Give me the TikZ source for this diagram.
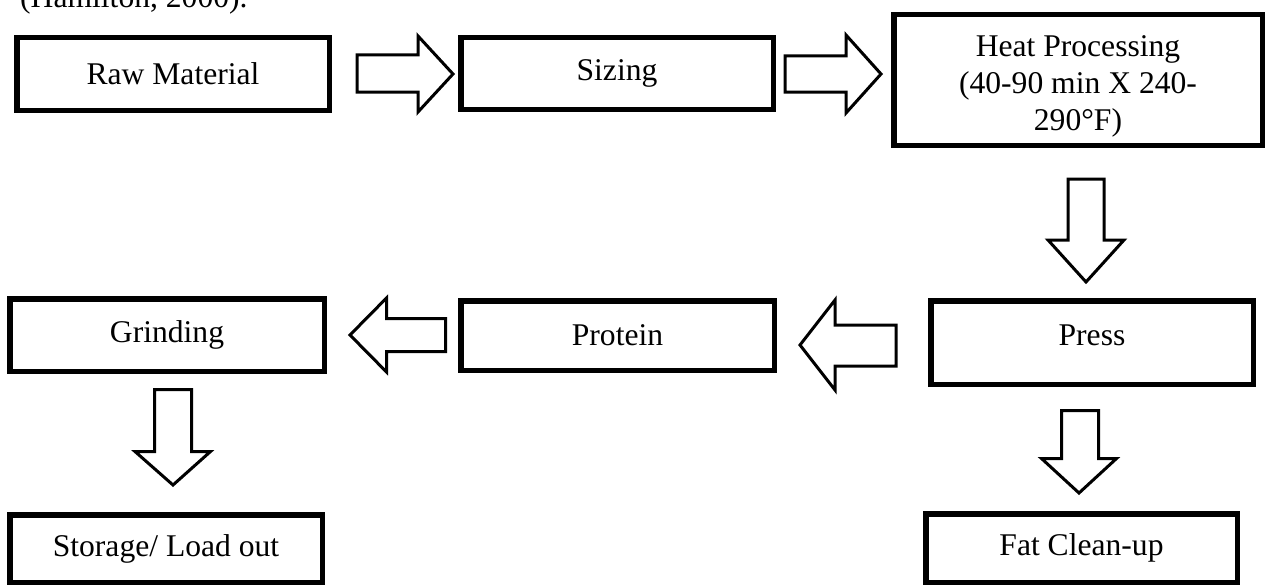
\documentclass[tikz,border=0pt]{standalone}
\usepackage{fontspec}
\setmainfont{Liberation Serif}
\begin{document}
\begin{tikzpicture}[x=1pt,y=-1pt,
  box/.style={draw=black,line width=5.5pt,fill=white,inner sep=0pt,align=center,
    font=\fontsize{31.6}{37}\selectfont},
  txt/.style={inner sep=0pt,align=center,font=\fontsize{31.6}{37}\selectfont},
  barrow/.style={draw=black,line width=3pt,fill=white,line join=miter}]
\useasboundingbox (0,0) rectangle (1266,586);
\clip (0,0) rectangle (1266,586);
\node[anchor=base west,inner sep=0pt,font=\fontsize{31.6}{37}\selectfont] (cite) at (20,8) {(Hamilton, 2000).};
% boxes
\node[box,minimum width=312.5pt,minimum height=72.5pt] (raw) at (173,74) {Raw Material};
\node[box,minimum width=312.5pt,minimum height=71.5pt] (siz) at (617,73.5) {Sizing};
\node[box,minimum width=368.5pt,minimum height=130.5pt] (heat) at (1078,80) {};
\node[txt] (heattxt) at (1078,86) {Heat Processing\\(40-90 min X 240-\\290\textdegree F)};
\node[box,minimum width=314.5pt,minimum height=72.5pt] (grind) at (167,335) {Grinding};
\node[box,minimum width=313.5pt,minimum height=69.5pt] (prot) at (617.5,335.5) {Protein};
\node[box,minimum width=322.5pt,minimum height=83.5pt] (press) at (1092,342.5) {};
\node[txt] (presstxt) at (1092,335) {Press};
\node[box,minimum width=312.5pt,minimum height=67.5pt] (stor) at (166,548.5) {Storage/ Load out};
\node[box,minimum width=311.5pt,minimum height=68.5pt] (fat) at (1081.5,548) {Fat Clean-up};
% block arrows
\draw[barrow] (357,55) -- (418,55) -- (418,36) -- (453,74) -- (418,112) -- (418,92) -- (357,92) -- cycle;
\draw[barrow] (785,56) -- (846,56) -- (846,35) -- (881,74) -- (846,113) -- (846,92) -- (785,92) -- cycle;
\draw[barrow] (1068,179) -- (1104,179) -- (1104,240) -- (1124,240) -- (1086,282) -- (1048,240) -- (1068,240) -- cycle;
\draw[barrow] (896,325) -- (835,325) -- (835,300) -- (800,345) -- (835,390) -- (835,366) -- (896,366) -- cycle;
\draw[barrow] (445.5,318.5) -- (386.5,318.5) -- (386.5,298) -- (350,335) -- (386.5,372) -- (386.5,351.5) -- (445.5,351.5) -- cycle;
\draw[barrow] (154.5,389.5) -- (191.5,389.5) -- (191.5,451.5) -- (210.5,451.5) -- (173,485) -- (135,451.5) -- (154.5,451.5) -- cycle;
\draw[barrow] (1061.5,410.5) -- (1098.5,410.5) -- (1098.5,458.5) -- (1116.5,458.5) -- (1079,493) -- (1041.5,458.5) -- (1061.5,458.5) -- cycle;
\end{tikzpicture}
\end{document}
